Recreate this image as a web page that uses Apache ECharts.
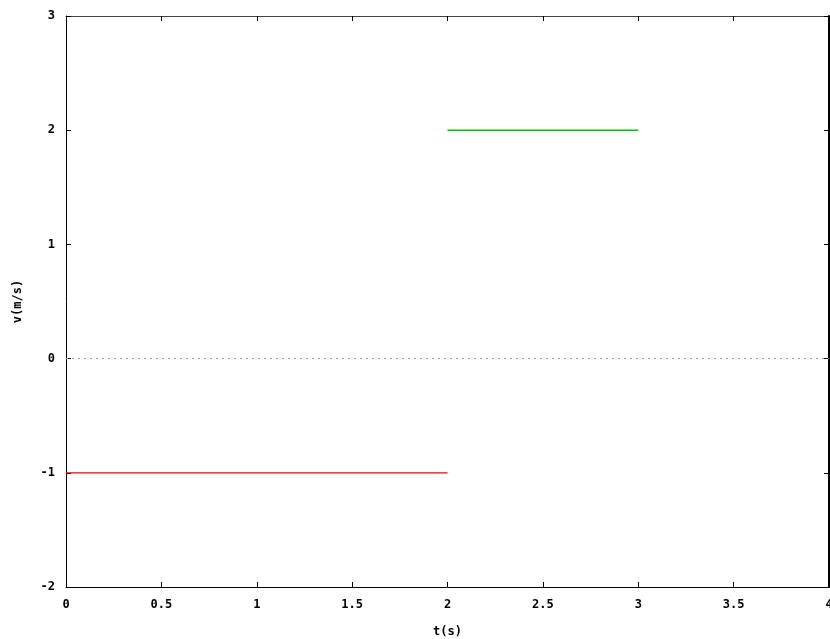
<!DOCTYPE html>
<html>
<head>
<meta charset="utf-8">
<script src="https://cdn.jsdelivr.net/npm/echarts@6/dist/echarts.min.js"></script>
<style>
  html, body { margin: 0; padding: 0; background: #fff; }
  #chart { width: 830px; height: 639px; }
</style>
</head>
<body>
<div id="chart"></div>
<script>
// velocity segments, t in s, v in m/s
const redT   = [0, 2];
const redV   = [-1, -1];
const greenT = [2, 3];
const greenV = [2, 2];
const zeroT  = [0, 4];
const zeroV  = [0, 0];

const xTicks = ['0', '0.5', '1', '1.5', '2', '2.5', '3', '3.5', '4'];
const yTicks = ['-2', '-1', '0', '1', '2', '3'];

const font = { fontFamily: 'DejaVu Sans Mono', fontWeight: 'bold', fontSize: 12, color: '#000' };
const pairs = (xs, ys) => xs.map((x, i) => [x, ys[i]]);

const chart = echarts.init(document.getElementById('chart'), null, { renderer: 'canvas' });

const baseX = {
  type: 'value', min: 0, max: 4, interval: 0.5,
  axisTick: { inside: true, length: 5, lineStyle: { color: '#000' } },
  splitLine: { show: false },
};
const baseY = {
  type: 'value', min: -2, max: 3, interval: 1,
  axisTick: { inside: true, length: 5, lineStyle: { color: '#000' } },
  splitLine: { show: false },
};

chart.setOption({
  animation: false,
  backgroundColor: '#fff',
  grid: { left: 66, right: 1, top: 16, bottom: 52, containLabel: false, outerBoundsMode: 'none' },
  xAxis: [
    { ...baseX, position: 'bottom',
      name: 't(s)', nameLocation: 'middle', nameGap: 39,
      nameTextStyle: { ...font },
      axisLine: { onZero: false, lineStyle: { color: '#000', width: 1 } },
      axisLabel: { ...font, margin: 12, formatter: v => xTicks[Math.round(v * 2)] } },
    { ...baseX, position: 'top',
      axisLine: { onZero: false, lineStyle: { color: '#444', width: 1 } },
      axisLabel: { show: false } },
  ],
  yAxis: [
    { ...baseY, position: 'left',
      name: 'v(m/s)', nameLocation: 'middle', nameGap: 42, nameRotate: 90,
      nameTextStyle: { ...font },
      axisLine: { onZero: false, lineStyle: { color: '#000', width: 1 } },
      axisLabel: { ...font, margin: 11, formatter: v => yTicks[v + 2] } },
    { ...baseY, position: 'right',
      axisLine: { onZero: false, lineStyle: { color: '#000', width: 2 } },
      axisLabel: { show: false } },
  ],
  series: [
    { type: 'line', data: pairs(zeroT, zeroV), symbol: 'none', silent: true,
      lineStyle: { color: '#a0a0a0', width: 1, type: [2, 4] } },
    { type: 'line', data: pairs(redT, redV), symbol: 'none',
      lineStyle: { color: '#ff0000', width: 1.2 } },
    { type: 'line', data: pairs(greenT, greenV), symbol: 'none',
      lineStyle: { color: '#00c000', width: 1.5 } },
  ],
});
</script>
</body>
</html>
